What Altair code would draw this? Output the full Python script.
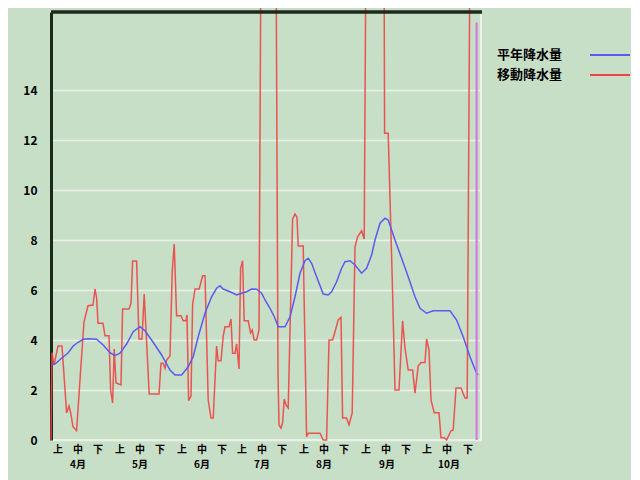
import altair as alt
import pandas as pd

# 平年降水量 (normal), x = day index from Apr 1 (2 px/day scale), y = mm
normal_day = [0.3, 2, 5.3, 8.6, 11.1, 13.6, 16.1, 18.6, 22.8, 26.1, 29.5, 32, 34.5, 37.8, 41.1, 44.5, 47, 50.3,
              52, 55.3, 59.5, 62, 65.3, 68.6, 71.1, 73.6, 77, 80.3, 82.8, 84.5, 86.1, 89.5, 92.8, 95.3, 97.8,
              100.3, 102.8, 105.3, 107, 109.5, 112, 113.6, 117, 119.5, 122, 124.5, 127, 128.6, 130.3, 132.8,
              136.1, 138.6, 140.3, 142.8, 145.3, 147, 149.5, 152, 155.3, 157.8, 160.3, 162, 164.5, 167, 168.6,
              172, 175.3, 178.6, 182, 184.5, 187.8, 191.1, 199.5, 202.8, 206.1, 209.5, 212.8, 213.6]
normal_val = [3.04, 3.04, 3.27, 3.49, 3.76, 3.91, 4.03, 4.05, 4.03, 3.8, 3.49, 3.37, 3.47, 3.84, 4.33, 4.53, 4.37, 4.0,
              3.8, 3.4, 2.8, 2.6, 2.6, 2.93, 3.33, 4.13, 5.07, 5.73, 6.07, 6.17, 6.04, 5.93, 5.8, 5.87, 5.93,
              6.04, 6.03, 5.87, 5.6, 5.27, 4.87, 4.53, 4.53, 4.93, 5.73, 6.67, 7.17, 7.27, 7.07, 6.53,
              5.84, 5.8, 5.93, 6.33, 6.87, 7.13, 7.17, 7.0, 6.67, 6.87, 7.4, 8.0, 8.67, 8.87, 8.8,
              8.0, 7.27, 6.53, 5.73, 5.27, 5.07, 5.17, 5.17, 4.8, 4.13, 3.33, 2.67, 2.6]

# 移動降水量 (moving), values above the top run off the chart
moving_day = [0, 0.5, 1.5, 3.5, 5.5, 7.8, 9, 9.8, 11, 12.8, 15, 16.5, 18.5, 21, 22, 22.8, 23.5, 26, 27, 29,
              29.8, 30.8, 31.6, 32.5, 35, 35.8, 39, 40, 40.8, 42.8, 44, 45.5, 46.6, 49.1, 54, 55, 56.1, 57,
              57.8, 59.5, 60.6, 61.6, 62.8, 65, 66.1, 67.5, 68, 68.8, 70, 70.8, 72, 74.1, 75.8, 77, 78.6, 80,
              81.1, 82.8, 83.6, 85, 86.1, 87, 89, 90, 90.8, 92, 92.8, 94, 94.8, 95.8, 96.6, 98.6, 99.8, 100.6,
              101.6, 102.8, 104, 105, 112.5, 113.5, 114, 115, 115.8, 116.6, 117.5, 118.6, 120.8, 122, 123,
              123.6, 126.1, 127.8, 128.6, 134.5, 136.1, 137.8, 139, 140.8, 142, 143.6, 145, 145.8, 147.8, 149,
              150.6, 152, 153.3, 155.3, 156.6, 157.5, 166.5, 166.8, 168.6, 170.6, 172, 174, 175.8, 177, 178.6,
              180.8, 182, 183.6, 185, 187, 187.8, 189, 190, 191.6, 194, 195, 196.6, 197.8, 200, 201.1, 202.5,
              205, 207, 208.1, 209.5]
moving_val = [0, 3.5, 3.0, 3.76, 3.76, 1.08, 1.36, 1.1, 0.53, 0.37, 3.0, 4.73, 5.37, 5.4, 6.04, 5.7, 4.67, 4.67, 4.17, 4.17,
              2.0, 1.48, 3.64, 2.28, 2.2, 5.24, 5.24, 5.47, 7.16, 7.16, 4.04, 4.04, 5.84, 1.84, 1.84, 3.07, 3.07, 2.87,
              3.2, 3.36, 6.73, 7.84, 4.97, 4.97, 4.77, 4.77, 5.0, 1.57, 1.76, 5.4, 6.04, 6.04, 6.57, 6.57, 1.6, 0.88,
              0.88, 3.76, 3.17, 3.17, 4.16, 4.53, 4.53, 4.84, 3.47, 3.47, 3.84, 2.84, 6.88, 7.17, 4.77, 4.77, 4.28, 4.4,
              4.0, 4.0, 4.4, 20, 20, 2.7, 0.6, 0.47, 0.7, 1.64, 1.4, 1.28, 8.84, 9.04, 8.9,
              7.76, 7.76, 0.13, 0.27, 0.27, 0.0, 0.0, 4.0, 4.0, 4.33, 4.8, 4.9, 0.88, 0.88, 0.6,
              1.08, 7.73, 8.13, 8.37, 8.04, 20, 20, 12.27, 12.27, 6.5, 2.0, 2.0, 4.77, 3.68, 2.8,
              2.8, 1.87, 2.96, 3.1, 3.1, 4.04, 3.6, 1.6, 1.09, 1.09, 0.09, 0.09, 0.0, 0.37, 0.4, 2.08,
              2.08, 1.68, 1.68, 20]

marker_day = [212.8]
marker_top = [16.7]

y_ticks = [0, 2, 4, 6, 8, 10, 12, 14]
dek_labels = ["上", "中", "下"] * 7
dek_days = [3.5, 13.5, 23.5, 34.5, 44.5, 54.5, 65.5, 75.5, 85.5, 95.5, 105.5, 115.5,
            126.5, 136.5, 146.5, 157.5, 167.5, 177.5, 188, 198, 208.5]
month_labels = ["4月", "5月", "6月", "7月", "8月", "9月", "10月"]
month_days = [13.5, 44.5, 75.5, 105.5, 136.5, 168, 199]

legend_names = ["平年降水量", "移動降水量"]
legend_colors = ["#5a5af0", "#ee4444"]

W, H = 430, 428
FONT = "Noto Sans CJK JP"
BG = "#c8dfc7"

xs = alt.Scale(domain=[0, 215], nice=False, zero=False)
ys = alt.Scale(domain=[0, 17.12], nice=False, zero=True)

normal_df = pd.DataFrame({"day": normal_day, "val": normal_val})
moving_df = pd.DataFrame({"day": moving_day, "val": moving_val})
marker_df = pd.DataFrame({"day": marker_day, "top": marker_top})
dek_df = pd.DataFrame({"day": dek_days, "lab": dek_labels})
mon_df = pd.DataFrame({"day": month_days, "lab": month_labels})

y_axis = alt.Axis(values=y_ticks, grid=True, gridColor="#e9f1e6", gridWidth=1.5,
                  domain=True, domainColor="#1c2a1c", domainWidth=3, ticks=False,
                  labelPadding=14, labelFont=FONT, labelFontWeight="bold", labelFontSize=12,
                  labelColor="#000000", title=None)

moving = alt.Chart(moving_df).mark_line(color="#ee4444", strokeWidth=1.5, clip=False, opacity=0.9).encode(
    x=alt.X("day:Q", scale=xs, axis=None),
    y=alt.Y("val:Q", scale=ys, axis=y_axis),
)
normal = alt.Chart(normal_df).mark_line(color="#5a5af0", strokeWidth=1.5).encode(
    x=alt.X("day:Q", scale=xs), y=alt.Y("val:Q", scale=ys)
)
marker = alt.Chart(marker_df).mark_rule(color="#d870e6", strokeWidth=2).encode(
    x=alt.X("day:Q", scale=xs), y=alt.Y("top:Q", scale=ys), y2=alt.value(H)
)
top_border = alt.Chart(marker_df).mark_rule(color="#1c2a1c", strokeWidth=3.5, clip=False).encode(
    x=alt.value(0), x2=alt.value(W + 1), y=alt.value(0)
)
dek_text = alt.Chart(dek_df).mark_text(font=FONT, fontSize=10, fontWeight="bold", color="#000000",
                                       baseline="middle", clip=False).encode(
    x=alt.X("day:Q", scale=xs), y=alt.value(H + 10), text="lab:N"
)
mon_text = alt.Chart(mon_df).mark_text(font=FONT, fontSize=10, fontWeight="bold", color="#000000",
                                       baseline="middle", clip=False).encode(
    x=alt.X("day:Q", scale=xs), y=alt.value(H + 25), text="lab:N"
)

legend_layers = []
for i, (name, col) in enumerate(zip(legend_names, legend_colors)):
    ldf = pd.DataFrame({"name": [name]})
    ypos = 43 + 20 * i
    legend_layers.append(
        alt.Chart(ldf).mark_text(font=FONT, fontSize=13, fontWeight="bold", color="#000000",
                                 align="left", baseline="middle", clip=False).encode(
            x=alt.value(446), y=alt.value(ypos), text="name:N")
    )
    legend_layers.append(
        alt.Chart(ldf).mark_rule(strokeWidth=2, color=col, clip=False).encode(
            x=alt.value(539), x2=alt.value(579), y=alt.value(ypos))
    )

chart = alt.layer(moving, normal, marker, top_border, dek_text, mon_text, *legend_layers).properties(
    width=W, height=H, background=BG,
    autosize=alt.AutoSizeParams(type="none"),
    padding={"left": 43, "top": 4, "right": 150, "bottom": 40},
).configure_view(stroke="#eaf2e6", strokeWidth=2, fill=BG)

chart.save("out.html", embed_options={"renderer": "svg", "actions": False})
